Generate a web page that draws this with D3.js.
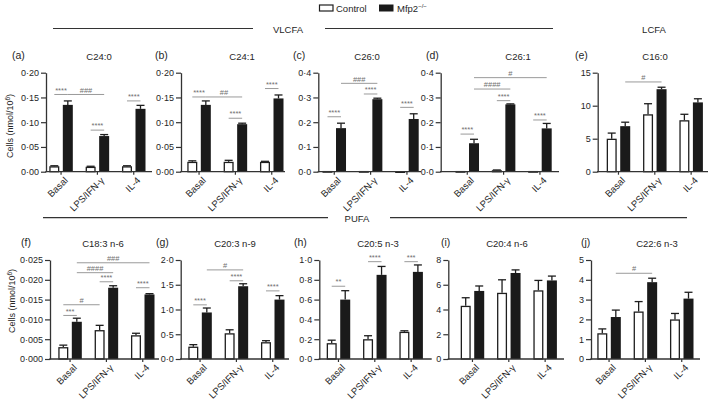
<!DOCTYPE html>
<html><head><meta charset="utf-8">
<script src="https://cdn.jsdelivr.net/npm/d3@7"></script>
<style>
body{margin:0;background:#fff}
svg text{font-family:"Liberation Sans",Arial,Helvetica,sans-serif;fill:#262626}
</style>
</head><body>
<svg id="c" width="709" height="400"></svg>
<script>
// ---------------- DATA ----------------
const groups = ["Basal", "LPS/IFN-γ", "IL-4"];
const seriesNames = ["Control", "Mfp2"];
const letters = ["(a)","(b)","(c)","(d)","(e)","(f)","(g)","(h)","(i)","(j)"];
const titles = ["C24:0","C24:1","C26:0","C26:1","C16:0","C18:3 n-6","C20:3 n-9","C20:5 n-3","C20:4 n-6","C22:6 n-3"];

const yTickLabels = [
  ["0·00","0·05","0·10","0·15","0·20"],
  ["0·00","0·05","0·10","0·15","0·20"],
  ["0·0","0·1","0·2","0·3","0·4"],
  ["0·0","0·1","0·2","0·3","0·4"],
  ["0","5","10","15"],
  ["0·000","0·005","0·010","0·015","0·020","0·025"],
  ["0·0","0·5","1·0","1·5","2·0"],
  ["0·0","0·2","0·4","0·6","0·8","1·0"],
  ["0","2","4","6","8"],
  ["0","1","2","3","4","5"]
];

const controlMean = [
  [0.011, 0.010, 0.011],
  [0.020, 0.020, 0.020],
  [0.003, 0.003, 0.002],
  [0.003, 0.006, 0.003],
  [5.0, 8.7, 7.8],
  [0.0030, 0.0073, 0.0060],
  [0.25, 0.52, 0.34],
  [0.16, 0.20, 0.275],
  [4.3, 5.35, 5.55],
  [1.3, 2.4, 2.0]
];
const controlSEM = [
  [0.001, 0.001, 0.001],
  [0.002, 0.003, 0.001],
  [0.000, 0.000, 0.000],
  [0.000, 0.001, 0.000],
  [0.85, 1.6, 0.9],
  [0.0005, 0.0012, 0.0005],
  [0.04, 0.07, 0.03],
  [0.03, 0.035, 0.01],
  [0.65, 1.05, 0.8],
  [0.22, 0.5, 0.3]
];
const mfp2Mean = [
  [0.135, 0.072, 0.127],
  [0.135, 0.096, 0.148],
  [0.176, 0.293, 0.213],
  [0.115, 0.272, 0.175],
  [6.9, 12.5, 10.5],
  [0.0094, 0.0180, 0.0163],
  [0.94, 1.47, 1.20],
  [0.60, 0.85, 0.88],
  [5.5, 6.95, 6.35],
  [2.12, 3.88, 3.05]
];
const mfp2SEM = [
  [0.008, 0.003, 0.007],
  [0.008, 0.002, 0.007],
  [0.020, 0.004, 0.021],
  [0.016, 0.002, 0.020],
  [0.6, 0.3, 0.55],
  [0.0009, 0.0005, 0.0002],
  [0.09, 0.05, 0.08],
  [0.09, 0.085, 0.07],
  [0.4, 0.25, 0.35],
  [0.35, 0.2, 0.32]
];

// significance brackets: [group, series] -> [group, series], value height, label
const significance = [
  [{a:[0,0],b:[0,1],v:0.156,t:"****"},{a:[0,1],b:[1,1],v:0.156,t:"###"},{a:[1,0],b:[1,1],v:0.084,t:"****"},{a:[2,0],b:[2,1],v:0.143,t:"****"}],
  [{a:[0,0],b:[0,1],v:0.151,t:"****"},{a:[0,1],b:[1,1],v:0.151,t:"##"},{a:[1,0],b:[1,1],v:0.108,t:"****"},{a:[2,0],b:[2,1],v:0.168,t:"****"}],
  [{a:[0,0],b:[0,1],v:0.222,t:"****"},{a:[0,1],b:[1,1],v:0.357,t:"###"},{a:[1,0],b:[1,1],v:0.314,t:"****"},{a:[2,0],b:[2,1],v:0.26,t:"****"}],
  [{a:[0,0],b:[0,1],v:0.152,t:"****"},{a:[0,1],b:[1,1],v:0.334,t:"####"},{a:[0,1],b:[2,1],v:0.38,t:"#"},{a:[1,0],b:[1,1],v:0.287,t:"****"},{a:[2,0],b:[2,1],v:0.209,t:"****"}],
  [{a:[0,1],b:[1,1],v:13.6,t:"#"}],
  [{a:[0,0],b:[0,1],v:0.0110,t:"***"},{a:[0,0],b:[1,0],v:0.0137,t:"#"},{a:[1,0],b:[1,1],v:0.0195,t:"****"},{a:[0,1],b:[1,1],v:0.0218,t:"####"},{a:[0,1],b:[2,1],v:0.0243,t:"###"},{a:[2,0],b:[2,1],v:0.0180,t:"****"}],
  [{a:[0,0],b:[0,1],v:1.094,t:"****"},{a:[0,1],b:[1,1],v:1.80,t:"#"},{a:[1,0],b:[1,1],v:1.58,t:"****"},{a:[2,0],b:[2,1],v:1.376,t:"****"}],
  [{a:[0,0],b:[0,1],v:0.735,t:"**"},{a:[1,0],b:[1,1],v:0.983,t:"****"},{a:[2,0],b:[2,1],v:0.983,t:"***"}],
  [],
  [{a:[0,1],b:[1,1],v:4.33,t:"#"}]
];

// ---------------- LAYOUT ----------------
const rows = [{yTop:72.7, yBot:171.7}, {yTop:260, yBot:359}];
const layout = [
  {row:0, ax0:46,    ax1:152,  bx0:49.3,  lx:12,   tx:99},
  {row:0, ax0:181,   ax1:285,  bx0:187.3, lx:155,  tx:242},
  {row:0, ax0:318.3, ax1:421,  bx0:322.5, lx:293,  tx:367},
  {row:0, ax0:440.7, ax1:559,  bx0:455.5, lx:426,  tx:518},
  {row:0, ax0:597.7, ax1:708,  bx0:606.7, lx:575,  tx:655},
  {row:1, ax0:50,    ax1:159,  bx0:58.3,  lx:21,   tx:103},
  {row:1, ax0:180.7, ax1:289,  bx0:188.3, lx:156,  tx:235},
  {row:1, ax0:319.3, ax1:431.7,bx0:326.7, lx:294,  tx:378},
  {row:1, ax0:448.3, ax1:564,  bx0:460.7, lx:441,  tx:507},
  {row:1, ax0:591,   ax1:700,  bx0:597.3, lx:581,  tx:657}
];
const GROUP_SPAN = 96.2;
const INK = "#1e1e1e";

const svg = d3.select("#c");

// ---- header: legend + section lines ----
const hdr = svg.append("g");
hdr.append("rect").attr("x",319.5).attr("y",5).attr("width",13.5).attr("height",6)
  .attr("fill","#fff").attr("stroke",INK).attr("stroke-width",1.2);
hdr.append("text").attr("x",336).attr("y",11.5).attr("font-size",9.5).text("Control");
hdr.append("rect").attr("x",379).attr("y",4.5).attr("width",14.5).attr("height",7)
  .attr("fill","#1a1a1a");
const mt = hdr.append("text").attr("x",397).attr("y",11.5).attr("font-size",9.5);
mt.append("tspan").text("Mfp2");
mt.append("tspan").attr("dy",-3.5).attr("font-size",6).text("−/−");

function sectionLine(x1,x2,y){
  hdr.append("line").attr("x1",x1).attr("x2",x2).attr("y1",y).attr("y2",y)
    .attr("stroke","#333").attr("stroke-width",1.2);
}
sectionLine(53,253,28.5); sectionLine(325,553,28.5);
hdr.append("text").attr("x",288).attr("y",32.5).attr("text-anchor","middle").attr("font-size",9.5).text("VLCFA");
hdr.append("text").attr("x",654).attr("y",32.5).attr("text-anchor","middle").attr("font-size",9.5).text("LCFA");
sectionLine(43,328,217.7); sectionLine(390,687,217.7);
hdr.append("text").attr("x",357).attr("y",221.5).attr("text-anchor","middle").attr("font-size",9.5).text("PUFA");

// y axis titles
function yTitle(x,y){
  const t = svg.append("text").attr("transform",`translate(${x},${y}) rotate(-90)`)
    .attr("text-anchor","middle").attr("font-size",9);
  t.append("tspan").text("Cells (nmol/10");
  t.append("tspan").attr("dy",-3).attr("font-size",6.5).text("6");
  t.append("tspan").attr("dy",3).text(")");
}
yTitle(13,126); yTitle(15,301);

// ---- panels ----
layout.forEach((L,i)=>{
  const R = rows[L.row];
  const ticks = yTickLabels[i].map(s=>+s.replace("·","."));
  const yMax = ticks[ticks.length-1];
  const y = d3.scaleLinear().domain([0,yMax]).range([R.yBot,R.yTop]);
  const x = d3.scaleBand().domain(groups).range([L.bx0, L.bx0+GROUP_SPAN]).paddingInner(0.353).paddingOuter(0);
  const xs = d3.scaleBand().domain(seriesNames).range([0,x.bandwidth()]).paddingInner(0.26);
  const bw = xs.bandwidth();
  const cx = (g,s)=> x(groups[g]) + xs(seriesNames[s]) + bw/2;
  const g = svg.append("g");

  // panel letter and title
  g.append("text").attr("x",L.lx).attr("y",R.yTop-14).attr("font-size",10.5).text(letters[i]);
  g.append("text").attr("x",L.tx).attr("y",R.yTop-13).attr("text-anchor","middle").attr("font-size",9.5).text(titles[i]);

  // bars
  groups.forEach((gr,j)=>{
    const series = [
      {s:0, m:controlMean[i][j], e:controlSEM[i][j]},
      {s:1, m:mfp2Mean[i][j], e:mfp2SEM[i][j]}
    ];
    series.forEach(d=>{
      const bx = x(gr) + xs(seriesNames[d.s]);
      const c = bx + bw/2;
      if (d.e > 0) {
        g.append("line").attr("x1",c).attr("x2",c).attr("y1",y(d.m)).attr("y2",y(d.m+d.e))
          .attr("stroke",INK).attr("stroke-width",1.3);
        g.append("line").attr("x1",c-4).attr("x2",c+4).attr("y1",y(d.m+d.e)).attr("y2",y(d.m+d.e))
          .attr("stroke",INK).attr("stroke-width",1.3);
      }
      if (d.s===0) {
        const top = y(d.m);
        g.append("rect").attr("x",bx+0.65).attr("y",top+0.65).attr("width",bw-1.3)
          .attr("height",Math.max(0.5,R.yBot-top-0.65))
          .attr("fill","#fff").attr("stroke",INK).attr("stroke-width",1.3);
      } else {
        g.append("rect").attr("x",bx).attr("y",y(d.m)).attr("width",bw)
          .attr("height",R.yBot-y(d.m)).attr("fill","#1a1a1a");
      }
    });
  });

  // significance
  significance[i].forEach(s=>{
    const x1 = cx(s.a[0],s.a[1]), x2 = cx(s.b[0],s.b[1]), yy = y(s.v);
    g.append("line").attr("x1",x1).attr("x2",x2).attr("y1",yy).attr("y2",yy)
      .attr("stroke","#9a9a9a").attr("stroke-width",1);
    g.append("text").attr("x",(x1+x2)/2).attr("y",yy-1.8).attr("text-anchor","middle")
      .attr("font-size",7.5).style("fill","#707070").text(s.t);
  });

  // y axis
  const ya = d3.axisLeft(y).tickValues(ticks).tickSize(5).tickSizeOuter(0)
    .tickFormat((d,k)=>yTickLabels[i][k]);
  const yg = g.append("g").attr("transform",`translate(${L.ax0},0)`).call(ya);
  yg.select(".domain").attr("stroke","#333").attr("stroke-width",1.3);
  yg.selectAll(".tick line").attr("stroke","#333").attr("stroke-width",1.2);
  yg.selectAll(".tick text").attr("font-size",9).attr("font-family",null).attr("x",-7);

  // x axis
  g.append("line").attr("x1",L.ax0-0.65).attr("x2",L.ax1).attr("y1",R.yBot).attr("y2",R.yBot)
    .attr("stroke","#333").attr("stroke-width",1.3);
  groups.forEach(gr=>{
    const c = x(gr) + x.bandwidth()/2;
    g.append("line").attr("x1",c).attr("x2",c).attr("y1",R.yBot).attr("y2",R.yBot+3)
      .attr("stroke","#333").attr("stroke-width",1.2);
    g.append("text").attr("transform",`translate(${c+5},${R.yBot+7}) rotate(-45)`)
      .attr("text-anchor","end").attr("dy","0.35em").attr("font-size",9.5).text(gr);
  });
});
</script>
</body></html>
